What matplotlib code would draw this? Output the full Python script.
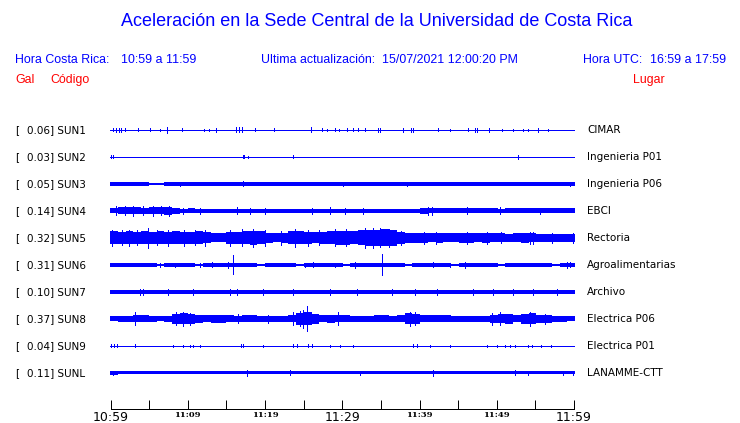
import matplotlib
matplotlib.use("Agg")
import matplotlib.pyplot as plt
import numpy as np

W, H = 740, 423
BLUE = "#0000FF"
RED = "#FF0000"

codes = ["SUN1", "SUN2", "SUN3", "SUN4", "SUN5", "SUN6", "SUN7", "SUN8", "SUN9", "SUNL"]
gal = ["0.06", "0.03", "0.05", "0.14", "0.32", "0.31", "0.10", "0.37", "0.04", "0.11"]
places = ["CIMAR", "Ingenieria P01", "Ingenieria P06", "EBCI", "Rectoria",
          "Agroalimentarias", "Archivo", "Electrica P06", "Electrica P01", "LANAMME-CTT"]

tick_minutes = [0, 5, 10, 15, 20, 25, 30, 35, 40, 45, 50, 55, 60]
tick_labels = {0: "10:59", 10: "11:09", 20: "11:19", 30: "11:29", 40: "11:39", 50: "11:49", 60: "11:59"}
big_labels = ["10:59", "11:29", "11:59"]

# per-minute half-amplitude envelopes (trace units)
env_sun1 = [0.4] * 60
env_sun2 = [0.4] * 60
env_sun3 = [1.9, 1.9, 1.9, 1.9, 1.9, 1.3, 1.4, 1.9, 1.9, 1.9,
            1.9, 1.9, 1.9, 1.9, 1.9, 1.9, 1.9, 1.9, 1.9, 1.9,
            1.9, 1.9, 1.9, 1.9, 1.9, 1.9, 1.9, 1.9, 1.9, 1.9,
            1.9, 1.9, 1.9, 1.9, 1.9, 1.9, 1.9, 1.9, 1.9, 1.9,
            1.9, 1.9, 1.9, 1.9, 1.9, 1.9, 1.9, 1.9, 1.9, 1.9,
            1.9, 1.9, 1.9, 1.9, 1.9, 1.9, 1.9, 1.9, 1.6, 1.9]
env_sun4 = [2.5, 3.5, 3.5, 3.5, 3.0, 3.5, 3.5, 4.0, 3.0, 2.0,
            2.5, 2.0, 2.0, 2.0, 2.0, 2.0, 2.0, 2.0, 2.0, 2.0,
            2.0, 2.0, 2.0, 2.0, 2.0, 2.0, 2.0, 2.0, 2.0, 2.0,
            2.0, 2.0, 2.0, 1.6, 1.6, 1.6, 1.6, 1.6, 1.6, 1.6,
            3.0, 2.5, 2.5, 2.5, 2.5, 2.5, 2.5, 2.5, 2.5, 2.5,
            2.0, 2.5, 2.5, 2.5, 2.5, 2.5, 2.5, 2.5, 2.5, 2.5]
env_sun5 = [6.5, 6.0, 6.5, 6.0, 6.5, 6.0, 6.5, 6.0, 6.5, 6.0,
            6.0, 6.5, 5.5, 4.5, 4.5, 6.0, 6.0, 6.5, 7.0, 6.5,
            5.0, 4.5, 5.0, 6.5, 6.5, 6.0, 5.5, 6.0, 6.5, 7.0,
            7.0, 6.5, 7.5, 8.0, 8.0, 8.5, 8.0, 6.0, 5.0, 5.0,
            5.0, 4.5, 5.0, 4.5, 4.5, 5.0, 5.0, 4.5, 5.0, 4.5,
            4.5, 4.0, 4.5, 5.0, 4.5, 4.0, 4.0, 4.0, 4.0, 4.0]
env_sun6 = [1.6, 1.6, 1.6, 1.6, 1.6, 1.6, 0.6, 1.6, 1.6, 1.6,
            1.6, 0.6, 1.6, 1.6, 1.6, 1.6, 1.6, 1.6, 1.6, 0.6,
            1.6, 1.6, 1.6, 1.6, 0.6, 1.6, 1.6, 1.6, 1.6, 1.6,
            0.6, 1.6, 1.6, 1.6, 1.6, 1.6, 1.6, 1.6, 0.6, 1.6,
            1.6, 1.6, 1.6, 1.6, 0.6, 1.6, 1.6, 1.6, 1.6, 1.6,
            0.6, 1.6, 1.6, 1.6, 1.6, 1.6, 1.6, 0.6, 1.6, 1.6]
env_sun7 = [2.0] * 60
env_sun8 = [2.5, 3.0, 3.0, 3.5, 3.5, 3.0, 2.5, 3.0, 5.0, 5.5,
            5.0, 4.0, 3.5, 4.0, 4.0, 3.5, 3.0, 3.5, 3.5, 3.0,
            3.0, 3.0, 3.0, 3.5, 6.0, 6.5, 5.0, 3.5, 4.0, 3.5,
            3.5, 3.0, 3.0, 3.0, 3.5, 3.5, 3.0, 3.5, 5.5, 5.0,
            3.5, 3.5, 3.5, 3.5, 3.0, 3.0, 3.0, 3.0, 3.0, 4.0,
            4.5, 5.0, 3.5, 5.0, 5.5, 4.0, 4.0, 3.0, 3.0, 2.5]
env_sun9 = [0.4] * 60
env_sunl = [1.9, 1.5, 1.5, 1.5, 1.5, 1.5, 1.5, 1.5, 1.5, 1.5,
            1.5, 1.5, 1.5, 1.5, 1.5, 1.5, 1.5, 1.5, 1.5, 1.5,
            1.5, 1.5, 1.5, 1.5, 1.5, 1.5, 1.5, 1.5, 1.5, 1.5,
            1.5, 1.5, 1.5, 1.5, 1.5, 1.5, 1.5, 1.5, 1.5, 1.5,
            1.5, 1.5, 1.5, 1.5, 1.5, 1.5, 1.5, 1.5, 1.5, 1.5,
            1.5, 1.5, 1.5, 1.5, 1.5, 1.5, 1.5, 1.5, 1.5, 1.5]

# spikes: (minute, half-amplitude)
spk_sun1 = [(0.4, 1.5), (0.8, 2), (1.1, 2), (1.4, 2), (1.9, 1.5), (3.6, 1.5), (5.2, 1.5), (6.45, 1.3),
            (7.4, 3), (9.3, 1.5), (12.1, 1.3), (12.8, 1.3), (13.7, 2), (16.2, 2.5), (16.6, 2.5),
            (17.0, 2.5), (18.7, 1.5), (21.2, 1.5), (25.9, 2.5), (27.4, 1.5), (28.0, 1.3), (29.0, 1.5),
            (29.6, 1.3), (30.6, 1.5), (31.4, 1.5), (32.0, 1.5), (32.9, 1.5), (34.6, 2), (34.8, 2),
            (37.8, 1.8), (38.9, 1.8), (39.1, 1.8), (42.3, 1.5), (43.9, 1.2), (46.2, 1.5), (47.1, 1.8),
            (47.4, 1.8), (48.9, 2), (50.6, 1.3), (52.0, 1.3), (53.3, 1.3), (53.9, 1.3), (55.2, 1.8),
            (56.5, 1.3)]
spk_sun2 = [(0.15, 1.5), (0.35, 1.5), (17.1, 1.5), (17.3, 1.5), (17.8, 1.0), (23.6, 1.5), (52.65, 2)]
spk_sun3 = [(17.16, 2.5), (38.3, 2.2), (59.35, 2.2), (9.0, 2.2), (30.0, 2.2)]
spk_sun4 = [(0.8, 4.5), (1.9, 4.5), (3.0, 5), (4.2, 4.5), (5.5, 5), (6.6, 4.5), (7.6, 5),
            (9.4, 3), (11.6, 3), (16.4, 3.5), (18.1, 3), (20.0, 3), (26.1, 3), (28.4, 3.5),
            (30.3, 3), (32.65, 3), (41.0, 4), (41.6, 4), (46.0, 3.5), (50.3, 3.5), (55.5, 3)]
spk_sun5 = [(0.3, 8), (1.5, 7.5), (2.5, 8), (3.5, 7.5), (4.9, 10), (6, 7.5), (7.5, 8), (9.5, 8),
            (11, 7.5), (12.3, 8), (15.5, 8), (17, 8.5), (18.5, 9), (20, 8), (22, 7), (23.9, 9),
            (25.5, 8), (27, 7.5), (29, 8.5), (30.5, 8.5), (32.9, 10), (33.9, 10), (34.8, 9.5),
            (36, 9), (37.5, 7), (40.5, 6), (42, 6), (46.1, 6), (48.7, 6), (50.5, 5.5), (54.2, 6),
            (54.6, 6), (57, 5), (59.7, 5)]
spk_sun6 = [(6.45, 2.2), (8.4, 2.2), (11.6, 2.2), (13.16, 2.5), (15.23, 3), (15.87, 9.5), (25.16, 2.2),
            (26.19, 2.5), (29.0, 2.2), (31.61, 3), (35.1, 10.5), (41.68, 2.5), (43.9, 2.2),
            (45.81, 3), (58.97, 3), (59.35, 2.5)]
spk_sun7 = [(3.87, 2.7), (4.26, 3), (7.48, 2.7), (10.7, 2.7), (15.48, 2.7), (16.39, 3), (19.74, 3),
            (23.61, 3), (28.39, 2.7), (31.87, 2.7), (36.39, 3), (39.35, 2.7), (42.19, 2.7),
            (46.84, 2.7), (49.42, 3), (52.0, 2.7), (54.58, 2.7), (57.68, 2.7)]
spk_sun8 = [(3.23, 6.5), (8.52, 6.5), (9.42, 7), (10.32, 6), (16.52, 4.5), (20.39, 4), (23.61, 6.5),
            (24.52, 7.5), (24.9, 9), (25.42, 12.5), (29.42, 6.5), (38.71, 7), (39.35, 6.5),
            (49.29, 6), (50.32, 6.5), (54.19, 7), (56.13, 5)]
spk_sun9 = [(0.1, 1.5), (0.5, 1.5), (0.9, 1.5), (3.23, 1.5), (8.13, 1.2), (9.42, 1.2), (10.32, 1.2),
            (10.71, 1.2), (11.61, 1.2), (16.9, 1.5), (17.2, 1.5), (19.74, 1.2), (23.61, 1.5),
            (24.13, 1.5), (25.55, 1.5), (26.06, 1.5), (28.4, 1.2), (29.68, 1.2), (31.35, 1.2),
            (39.1, 1.5), (39.61, 1.5), (41.29, 1.2), (43.87, 1.2), (48.65, 1.2), (49.94, 1.3),
            (50.97, 1.3), (51.61, 1.3), (52.26, 1.3), (53.94, 1.3), (54.45, 1.3), (55.61, 1.2),
            (56.9, 1.2)]
spk_sunl = [(0.39, 2.0), (17.68, 3), (23.23, 2.5), (32.26, 2.2), (41.68, 3), (52.26, 2.5),
            (53.94, 2.2), (58.45, 2.2), (59.74, 2.2)]

envs = [env_sun1, env_sun2, env_sun3, env_sun4, env_sun5, env_sun6, env_sun7, env_sun8, env_sun9, env_sunl]
spikes = [spk_sun1, spk_sun2, spk_sun3, spk_sun4, spk_sun5, spk_sun6, spk_sun7, spk_sun8, spk_sun9, spk_sunl]

fig = plt.figure(figsize=(W / 100, H / 100), dpi=100)
fig.patch.set_facecolor("white")


def fx(x):
    return x / W


def fy(y):
    return 1 - y / H


# trace axes: 1 data unit = 1 pixel vertically
top, bot = 118, 388
ax = fig.add_axes([fx(110), fy(bot), fx(575) - fx(110), (bot - top) / H])
ax.set_xlim(0, 60)
ax.set_ylim(bot, top)
ax.axis("off")
row0, step = 130, 27
px = 0.72
for i, (env, spk) in enumerate(zip(envs, spikes)):
    base = row0 + step * i
    e = np.array(env + [env[-1]])
    xs = np.arange(61)
    ax.fill_between(xs, base - e, base + e, step="post", color=BLUE, lw=0, antialiased=False)
    ax.plot([0, 60], [base, base], color=BLUE, lw=1.0 * px, antialiased=False)
    if spk:
        t = [s[0] for s in spk]
        a = [s[1] for s in spk]
        ax.vlines(t, [base - v for v in a], [base + v for v in a], color=BLUE, lw=1.0 * px,
                  antialiased=False)
    # labels
    fig.text(fx(15), fy(base), "[", fontsize=7.5, family="DejaVu Sans", va="center", ha="left")
    fig.text(fx(27.3), fy(base), f"{gal[i]}] {codes[i]}", fontsize=7.5, family="DejaVu Sans",
             va="center", ha="left")
    fig.text(fx(587.3), fy(base), places[i], fontsize=7.5, family="DejaVu Sans",
             va="center", ha="left")

# time axis
tax = fig.add_axes([fx(110.5), fy(409), fx(574) - fx(110.5), 20 / H])
tax.set_xlim(0, 60)
tax.set_ylim(0, 1)
tax.patch.set_visible(False)
for s in ["top", "left", "right"]:
    tax.spines[s].set_visible(False)
tax.spines["bottom"].set_linewidth(1.0 * px)
tax.set_yticks([])
tax.set_xticks(tick_minutes)
tax.set_xticklabels([tick_labels.get(m, "") for m in tick_minutes])
tax.tick_params(axis="x", direction="in", length=9 * px, width=1.0 * px, pad=1.5)
for lab in tax.get_xticklabels():
    if lab.get_text() in big_labels:
        lab.set_fontsize(9)
        lab.set_family("DejaVu Sans")
    else:
        lab.set_fontsize(6)
        lab.set_family("DejaVu Serif")
        lab.set_fontweight("bold")

# header
hf = "Liberation Sans"
fs = 8.9
fig.text(fx(377), fy(22), "Aceleración en la Sede Central de la Universidad de Costa Rica",
         fontsize=13, family=hf, color=BLUE, ha="center", va="center")
fig.text(fx(15), fy(60), "Hora Costa Rica:", fontsize=fs, family=hf, color=BLUE, va="center")
fig.text(fx(121), fy(60), "10:59 a 11:59", fontsize=fs, family=hf, color=BLUE, va="center")
fig.text(fx(261), fy(60), "Ultima actualización:", fontsize=fs, family=hf, color=BLUE, va="center")
fig.text(fx(382), fy(60), "15/07/2021 12:00:20 PM", fontsize=fs, family=hf, color=BLUE, va="center")
fig.text(fx(583), fy(60), "Hora UTC:", fontsize=fs, family=hf, color=BLUE, va="center")
fig.text(fx(726), fy(60), "16:59 a 17:59", fontsize=fs, family=hf, color=BLUE, va="center", ha="right")
fig.text(fx(15.5), fy(80), "Gal", fontsize=fs, family=hf, color=RED, va="center")
fig.text(fx(50.5), fy(80), "Código", fontsize=fs, family=hf, color=RED, va="center")
fig.text(fx(633), fy(80), "Lugar", fontsize=fs, family=hf, color=RED, va="center", ha="left")

fig.savefig("out.png", dpi=100, facecolor="white")
